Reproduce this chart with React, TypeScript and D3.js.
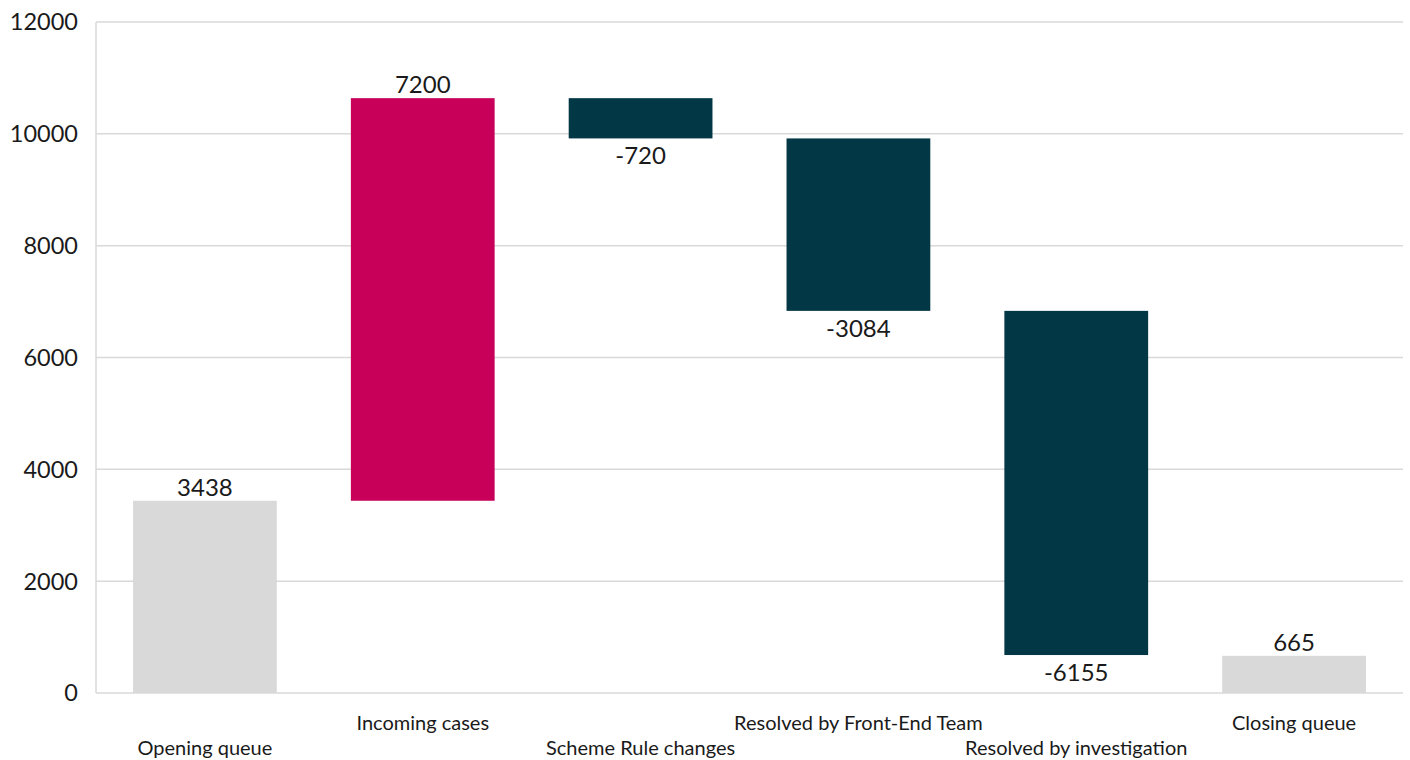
import React from "react";
import * as d3 from "d3";

const categories = ["Opening queue", "Incoming cases", "Scheme Rule changes", "Resolved by Front-End Team", "Resolved by investigation", "Closing queue"];
const values = [3438, 7200, -720, -3084, -6155, 665];
const kinds = ["total", "delta", "delta", "delta", "delta", "total"];
const yTicks = [0, 2000, 4000, 6000, 8000, 10000, 12000];

const W = 1410, H = 760;
const left = 96, right = 1403, top = 22, bottom = 693;
const FONT = "Lato, 'Noto Sans', sans-serif";

export default function App() {
  const x = d3.scaleBand<string>().domain(categories).range([left, right]).paddingInner(0.34).paddingOuter(0.17);
  const y = d3.scaleLinear().domain([0, 12000]).range([bottom, top]);

  let running = 0;
  const bars = categories.map((c, i) => {
    const v = values[i];
    let y0: number, y1: number;
    if (kinds[i] === "total") {
      y0 = 0; y1 = v; running = v;
    } else {
      y0 = running; y1 = running + v; running = y1;
    }
    const color = kinds[i] === "total" ? "#d9d9d9" : v >= 0 ? "#c8005a" : "#023845";
    return { c, v, y0, y1, color, i };
  });

  return (
    <svg width={W} height={H} style={{ position: "absolute", left: 0, top: 0 }} fontFamily={FONT}>
      <rect width={W} height={H} fill="#fff" />
      {yTicks.map((t) => (
        <g key={t}>
          <line x1={left} x2={right} y1={y(t)} y2={y(t)} stroke="#d9d9d9" strokeWidth={1.5} />
          <text x={78} y={y(t)} dy="0.36em" textAnchor="end" fontSize={23.5} fill="#1a1a1a">{t}</text>
        </g>
      ))}
      <line x1={left} x2={left} y1={top} y2={bottom} stroke="#d9d9d9" strokeWidth={1.5} />
      {bars.map((b) => {
        const yt = y(Math.max(b.y0, b.y1));
        const yb = y(Math.min(b.y0, b.y1));
        const bx = x(b.c)!;
        const cx = bx + x.bandwidth() / 2;
        return (
          <g key={b.c}>
            <rect x={bx} y={yt} width={x.bandwidth()} height={yb - yt} fill={b.color} />
            {b.v >= 0 ? (
              <text x={cx} y={yt - 5} textAnchor="middle" fontSize={24} fill="#1a1a1a">{b.v}</text>
            ) : (
              <text x={cx} y={yb + 26} textAnchor="middle" fontSize={24} fill="#1a1a1a">{b.v}</text>
            )}
            <text x={cx} y={b.i % 2 === 0 ? 755 : 730} textAnchor="middle" fontSize={20} fill="#1a1a1a">{b.c}</text>
          </g>
        );
      })}
    </svg>
  );
}
